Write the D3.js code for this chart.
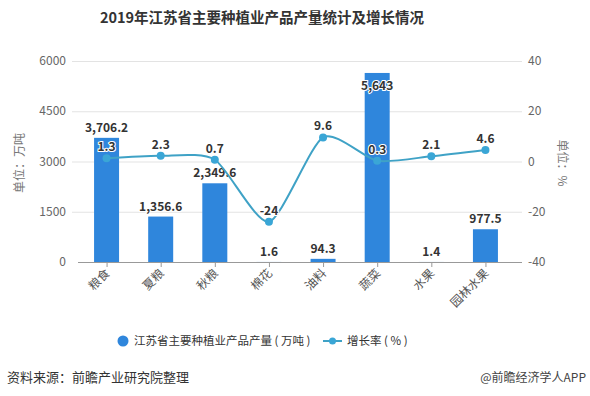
<!DOCTYPE html>
<html>
<head>
<meta charset="utf-8">
<script src="https://cdn.jsdelivr.net/npm/d3@7"></script>
<style>
  body { margin: 0; background: #fff; }
  svg { font-family: "Noto Sans CJK SC", "Noto Sans", sans-serif; }
</style>
</head>
<body>
<svg id="stage" width="590" height="396"></svg>
<script>
var categories = ['粮食', '夏粮', '秋粮', '棉花', '油料', '蔬菜', '水果', '园林水果'],
    output = [3706.2, 1356.6, 2349.6, 1.6, 94.3, 5643, 1.4, 977.5],
    growth = [1.3, 2.3, 0.7, -24, 9.6, 0.3, 2.1, 4.6],
    leftTicks = [0, 1500, 3000, 4500, 6000],
    rightTicks = [-40, -20, 0, 20, 40];

var svg = d3.select('#stage'),
    LEFT = 72,
    RIGHT = 522,
    TOP = 61,
    BOTTOM = 262,
    BAR = '#2f86dc',
    LINE = '#3fa2c6';

var x = d3.scaleBand().domain(categories).range([79.5, 512.5]),
    y = d3.scaleLinear().domain([0, 6000]).range([BOTTOM, TOP]),
    y2 = d3.scaleLinear().domain([-40, 40]).range([BOTTOM, TOP]),
    fmt = d3.format(',');

function cx(d, i) { return x(categories[i]) + x.bandwidth() / 2; }

// title
svg.append('text')
  .attr('x', 262).attr('y', 23)
  .attr('text-anchor', 'middle')
  .attr('font-size', 14.5).attr('font-weight', 'bold')
  .attr('fill', '#333')
  .text('2019年江苏省主要种植业产品产量统计及增长情况');

// grid
svg.append('g').selectAll('line')
  .data(leftTicks.slice(1))
  .join('line')
  .attr('x1', LEFT).attr('x2', RIGHT)
  .attr('y1', function (d) { return y(d) + 0.5; })
  .attr('y2', function (d) { return y(d) + 0.5; })
  .attr('stroke', '#e3e3e3');

// left axis labels
svg.append('g').selectAll('text')
  .data(leftTicks)
  .join('text')
  .attr('x', 66)
  .attr('y', function (d) { return y(d) + 4; })
  .attr('text-anchor', 'end')
  .attr('font-size', 12).attr('fill', '#666')
  .text(function (d) { return d; });

// right axis labels
svg.append('g').selectAll('text')
  .data(rightTicks)
  .join('text')
  .attr('x', 528)
  .attr('y', function (d) { return y2(d) + 4; })
  .attr('font-size', 12).attr('fill', '#666')
  .text(function (d) { return d; });

svg.append('text')
  .attr('transform', 'translate(24,163) rotate(-90)')
  .attr('text-anchor', 'middle')
  .attr('font-size', 12).attr('fill', '#777')
  .text('单位：万吨');

svg.append('text')
  .attr('transform', 'translate(558,163) rotate(90)')
  .attr('text-anchor', 'middle')
  .attr('font-size', 12).attr('fill', '#777')
  .text('单位：%');

// bars
var bw = 25;
svg.append('g').selectAll('rect')
  .data(output)
  .join('rect')
  .attr('x', function (d, i) { return cx(d, i) - bw / 2; })
  .attr('y', function (d) { return y(d); })
  .attr('width', bw)
  .attr('height', function (d) { return BOTTOM - y(d); })
  .attr('fill', BAR);

// x axis
svg.append('line')
  .attr('x1', 78).attr('x2', RIGHT)
  .attr('y1', BOTTOM + 0.5).attr('y2', BOTTOM + 0.5)
  .attr('stroke', '#999');

svg.append('g').selectAll('line')
  .data(categories)
  .join('line')
  .attr('x1', function (d, i) { return cx(d, i) + 0.5; })
  .attr('x2', function (d, i) { return cx(d, i) + 0.5; })
  .attr('y1', BOTTOM).attr('y2', BOTTOM + 5)
  .attr('stroke', '#999');

svg.append('g').selectAll('text')
  .data(categories)
  .join('text')
  .attr('transform', function (d, i) {
    return 'translate(' + [cx(d, i) + 4, BOTTOM + 12] + ') rotate(-45)';
  })
  .attr('text-anchor', 'end')
  .attr('font-size', 12).attr('fill', '#555')
  .text(function (d) { return d; });

// bar labels
svg.append('g').selectAll('text')
  .data(output)
  .join('text')
  .attr('x', cx)
  .attr('y', function (d) {
    var top = y(d);
    return top - 12 < TOP + 12 ? top + 17 : top - 6;
  })
  .attr('text-anchor', 'middle')
  .attr('font-size', 12).attr('font-weight', 'bold')
  .attr('fill', '#333')
  .attr('stroke', '#fff').attr('stroke-width', 2)
  .attr('paint-order', 'stroke')
  .text(function (d) { return fmt(d); });

// growth line
var line = d3.line()
  .x(function (d, i) { return cx(d, i); })
  .y(function (d) { return y2(d); })
  .curve(d3.curveCardinal.tension(0.3));

svg.append('path')
  .datum(growth)
  .attr('d', line)
  .attr('fill', 'none')
  .attr('stroke', LINE)
  .attr('stroke-width', 2);

svg.append('g').selectAll('circle')
  .data(growth)
  .join('circle')
  .attr('cx', cx)
  .attr('cy', function (d) { return y2(d); })
  .attr('r', 4)
  .attr('fill', '#3aa6d6');

svg.append('g').selectAll('text')
  .data(growth)
  .join('text')
  .attr('x', cx)
  .attr('y', function (d) { return y2(d) - 7; })
  .attr('text-anchor', 'middle')
  .attr('font-size', 12).attr('font-weight', 'bold')
  .attr('fill', '#333')
  .attr('stroke', '#fff').attr('stroke-width', 2)
  .attr('paint-order', 'stroke')
  .text(function (d) { return d; });

// legend
var legend = svg.append('g').attr('font-size', 11.5).attr('fill', '#333');
legend.append('circle').attr('cx', 123).attr('cy', 341).attr('r', 5.5).attr('fill', BAR);
legend.append('text').attr('x', 134).attr('y', 345).text('江苏省主要种植业产品产量 ( 万吨 )');
legend.append('line').attr('x1', 323).attr('x2', 342).attr('y1', 341).attr('y2', 341)
  .attr('stroke', LINE).attr('stroke-width', 2);
legend.append('circle').attr('cx', 332.5).attr('cy', 341).attr('r', 3.5).attr('fill', '#3aa6d6');
legend.append('text').attr('x', 347).attr('y', 345).text('增长率 ( % )');

// footer
svg.append('text')
  .attr('x', 7).attr('y', 382)
  .attr('font-size', 13).attr('fill', '#333')
  .text('资料来源：前瞻产业研究院整理');

svg.append('text')
  .attr('x', 586).attr('y', 382)
  .attr('text-anchor', 'end')
  .attr('font-size', 12).attr('fill', '#444')
  .text('@前瞻经济学人APP');
</script>
</body>
</html>
